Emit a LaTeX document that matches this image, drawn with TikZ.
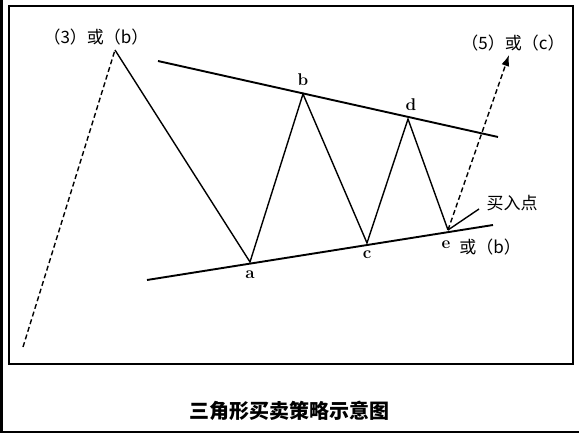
\documentclass[tikz,border=0pt]{standalone}
\usepackage{fontspec}
\newfontfamily\cjk{Noto Sans CJK SC}
\usetikzlibrary{arrows.meta}

\tikzset{
  wave/.style={line width=1.4pt},
  trend/.style={line width=1.9pt},
  future/.style={dashed, line width=1.4pt, dash pattern=on 5pt off 3pt},
  wavelabel/.style={font=\bfseries\fontsize{17}{17}\selectfont, inner sep=0pt},
  cjklabel/.style={font=\cjk\fontsize{17}{17}\selectfont, inner sep=0pt}
}

\begin{document}
\begin{tikzpicture}[x=1pt, y=-1pt]
			\useasboundingbox (0,0) rectangle (579,433);
			\fill[white] (0,0) rectangle (579,433);

			% page edges
			\fill[black] (0,0) rectangle (2.5,433);
			\fill[black] (0,430.5) rectangle (579,433);
			\draw[line width=1.2pt] (9,6) rectangle (573,364);

			% turning points
			\coordinate (start) at (23,347);
			\coordinate (top) at (115,50);
			\coordinate (a) at (250,262);
			\coordinate (b) at (303,94);
			\coordinate (c) at (367,243);
			\coordinate (d) at (408,119);
			\coordinate (e) at (448,230);
			\coordinate (goal) at (509,55);

			% trend lines
			\coordinate (u1) at (158,61);
			\coordinate (u2) at (498,137);
			\coordinate (l1) at (147,280);
			\coordinate (l2) at (493,225);
			\draw[trend] (u1) -- (u2);
			\draw[trend] (l1) -- (l2);

			% waves
			\draw[future] (start) -- (top);
			\draw[wave] (top) -- (a) -- (b) -- (c) -- (d) -- (e);
			\draw[future, -{Latex[length=11pt, width=8pt]}] (e) -- (goal);

			% point labels
			\node[cjklabel] (toplab) at (96,37) {（3）或（b）};
			\node[cjklabel] (goallab) at (513,43) {（5）或（c）};
			\node[wavelabel] (alab) at (250,275) {a};
			\node[wavelabel] (blab) at (303,80) {b};
			\node[wavelabel] (clab) at (367,255) {c};
			\node[wavelabel] (dlab) at (411,105) {d};
			\node[wavelabel] (elab) at (446,245) {e};
			\node[cjklabel] (orb) at (490,247) {或（b）};

			% buy point
			\node[cjklabel] (buy) at (512,203) {买入点};
			\coordinate (tip) at (479,209);
			\draw[line width=1.4pt] (tip) -- (e);

			% caption
			\node[font=\cjk\bfseries\fontsize{20}{20}\selectfont, inner sep=0pt] (caption) at (289,411) {三角形买卖策略示意图};
		\end{tikzpicture}
\end{document}
